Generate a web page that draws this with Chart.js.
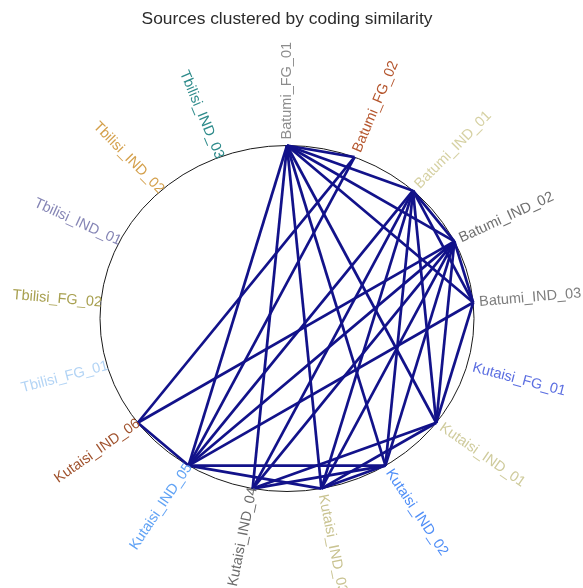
<!DOCTYPE html>
<html>
<head>
<meta charset="utf-8">
<script src="https://cdn.jsdelivr.net/npm/chart.js@4.4.0/dist/chart.umd.min.js"></script>
<style>
  html, body { margin: 0; padding: 0; background: #fff; }
  #wrap { width: 583px; height: 588px; }
</style>
</head>
<body>
<div id="wrap"><canvas id="net" width="583" height="588"></canvas></div>
<script>
const title = "Sources clustered by coding similarity";

// sources in circular order, clockwise from the top
const sources = [
  "Batumi_FG_01", "Batumi_FG_02", "Batumi_IND_01", "Batumi_IND_02", "Batumi_IND_03",
  "Kutaisi_FG_01", "Kutaisi_IND_01", "Kutaisi_IND_02", "Kutaisi_IND_03", "Kutaisi_IND_04",
  "Kutaisi_IND_05", "Kutaisi_IND_06", "Tbilisi_FG_01", "Tbilisi_FG_02", "Tbilisi_IND_01",
  "Tbilisi_IND_02", "Tbilisi_IND_03"
];

const labelColors = [
  "#8c8c8c", "#b5562e", "#d6d1a3", "#707070", "#7d7d7d",
  "#5b6ee1", "#cfcb9c", "#4f8ef7", "#c9c391", "#6b6b6b",
  "#61a3f5", "#a0522d", "#b3d4f5", "#a8a050", "#8585b5",
  "#d4a04c", "#2e8b8b"
];

// links between sources with similar coding
const edges = [
  ["Batumi_FG_01", "Batumi_FG_02"], ["Batumi_FG_01", "Batumi_IND_01"],
  ["Batumi_FG_01", "Batumi_IND_02"], ["Batumi_FG_01", "Batumi_IND_03"],
  ["Batumi_FG_01", "Kutaisi_IND_01"], ["Batumi_FG_01", "Kutaisi_IND_02"],
  ["Batumi_FG_01", "Kutaisi_IND_03"], ["Batumi_FG_01", "Kutaisi_IND_04"],
  ["Batumi_FG_01", "Kutaisi_IND_05"],
  ["Batumi_FG_02", "Kutaisi_IND_05"], ["Batumi_FG_02", "Kutaisi_IND_06"],
  ["Batumi_IND_01", "Batumi_IND_02"], ["Batumi_IND_01", "Batumi_IND_03"],
  ["Batumi_IND_01", "Kutaisi_IND_01"], ["Batumi_IND_01", "Kutaisi_IND_02"],
  ["Batumi_IND_01", "Kutaisi_IND_03"], ["Batumi_IND_01", "Kutaisi_IND_04"],
  ["Batumi_IND_01", "Kutaisi_IND_05"],
  ["Batumi_IND_02", "Batumi_IND_03"], ["Batumi_IND_02", "Kutaisi_IND_01"],
  ["Batumi_IND_02", "Kutaisi_IND_02"], ["Batumi_IND_02", "Kutaisi_IND_03"],
  ["Batumi_IND_02", "Kutaisi_IND_04"], ["Batumi_IND_02", "Kutaisi_IND_05"],
  ["Batumi_IND_02", "Kutaisi_IND_06"],
  ["Batumi_IND_03", "Kutaisi_IND_01"], ["Batumi_IND_03", "Kutaisi_IND_05"],
  ["Kutaisi_IND_01", "Kutaisi_IND_03"], ["Kutaisi_IND_01", "Kutaisi_IND_04"],
  ["Kutaisi_IND_02", "Kutaisi_IND_03"], ["Kutaisi_IND_02", "Kutaisi_IND_04"],
  ["Kutaisi_IND_02", "Kutaisi_IND_05"],
  ["Kutaisi_IND_03", "Kutaisi_IND_05"],
  ["Kutaisi_IND_05", "Kutaisi_IND_06"]
];

// circular layout: unit circle, first source on top, going clockwise
function nodePos(name) {
  const i = sources.indexOf(name);
  const a = i * 2 * Math.PI / sources.length;
  return { x: Math.sin(a), y: Math.cos(a) };
}

const datasets = edges.map(([a, b]) => ({
  data: [nodePos(a), nodePos(b)],
  showLine: true,
  borderColor: "#12128a",
  borderWidth: 2.7,
  pointRadius: 0,
  pointHoverRadius: 0,
  fill: false
}));

const fontFamily = "Arial, 'Liberation Sans', Helvetica, sans-serif";

const ringAndLabels = {
  id: "ringAndLabels",
  beforeDatasetsDraw(chart) {
    const { ctx, scales } = chart;
    const cx = scales.x.getPixelForValue(0);
    const cy = scales.y.getPixelForValue(0);
    const rx = scales.x.getPixelForValue(1) - cx;
    const ry = cy - scales.y.getPixelForValue(1);
    ctx.save();
    ctx.beginPath();
    ctx.ellipse(cx, cy, rx, ry, 0, 0, 2 * Math.PI);
    ctx.strokeStyle = "#1a1a1a";
    ctx.lineWidth = 1;
    ctx.stroke();
    ctx.restore();
  },
  afterDraw(chart) {
    const { ctx, scales } = chart;
    const cx = scales.x.getPixelForValue(0);
    const cy = scales.y.getPixelForValue(0);
    ctx.save();
    ctx.font = "14.5px " + fontFamily;
    ctx.textBaseline = "middle";
    sources.forEach((name, i) => {
      const p = nodePos(name);
      const px = scales.x.getPixelForValue(p.x);
      const py = scales.y.getPixelForValue(p.y);
      let dx = px - cx, dy = py - cy;
      const len = Math.hypot(dx, dy);
      dx /= len; dy /= len;
      const left = dx < -0.01;
      const gap = left ? -1 : 6;
      let rot = Math.atan2(dy, dx);
      ctx.save();
      ctx.translate(px + dx * gap, py + dy * gap);
      if (left) {
        rot += Math.PI;
        ctx.textAlign = "right";
      } else {
        ctx.textAlign = "left";
      }
      ctx.rotate(rot);
      ctx.fillStyle = labelColors[i];
      ctx.fillText(name, 0, 0);
      ctx.restore();
    });
    // title
    ctx.font = "17.4px " + fontFamily;
    ctx.fillStyle = "#2b2b2b";
    ctx.textAlign = "center";
    ctx.fillText(title, 287, 19);
    ctx.restore();
  }
};

new Chart(document.getElementById("net"), {
  type: "scatter",
  data: { datasets },
  options: {
    responsive: false,
    devicePixelRatio: 1,
    animation: false,
    events: [],
    layout: { padding: 0 },
    plugins: {
      legend: { display: false },
      tooltip: { enabled: false },
      title: { display: false }
    },
    scales: {
      x: { type: "linear", display: false, min: -287 / 187, max: 296 / 187 },
      y: { type: "linear", display: false, min: -269.5 / 173, max: 318.5 / 173 }
    }
  },
  plugins: [ringAndLabels]
});
</script>
</body>
</html>
